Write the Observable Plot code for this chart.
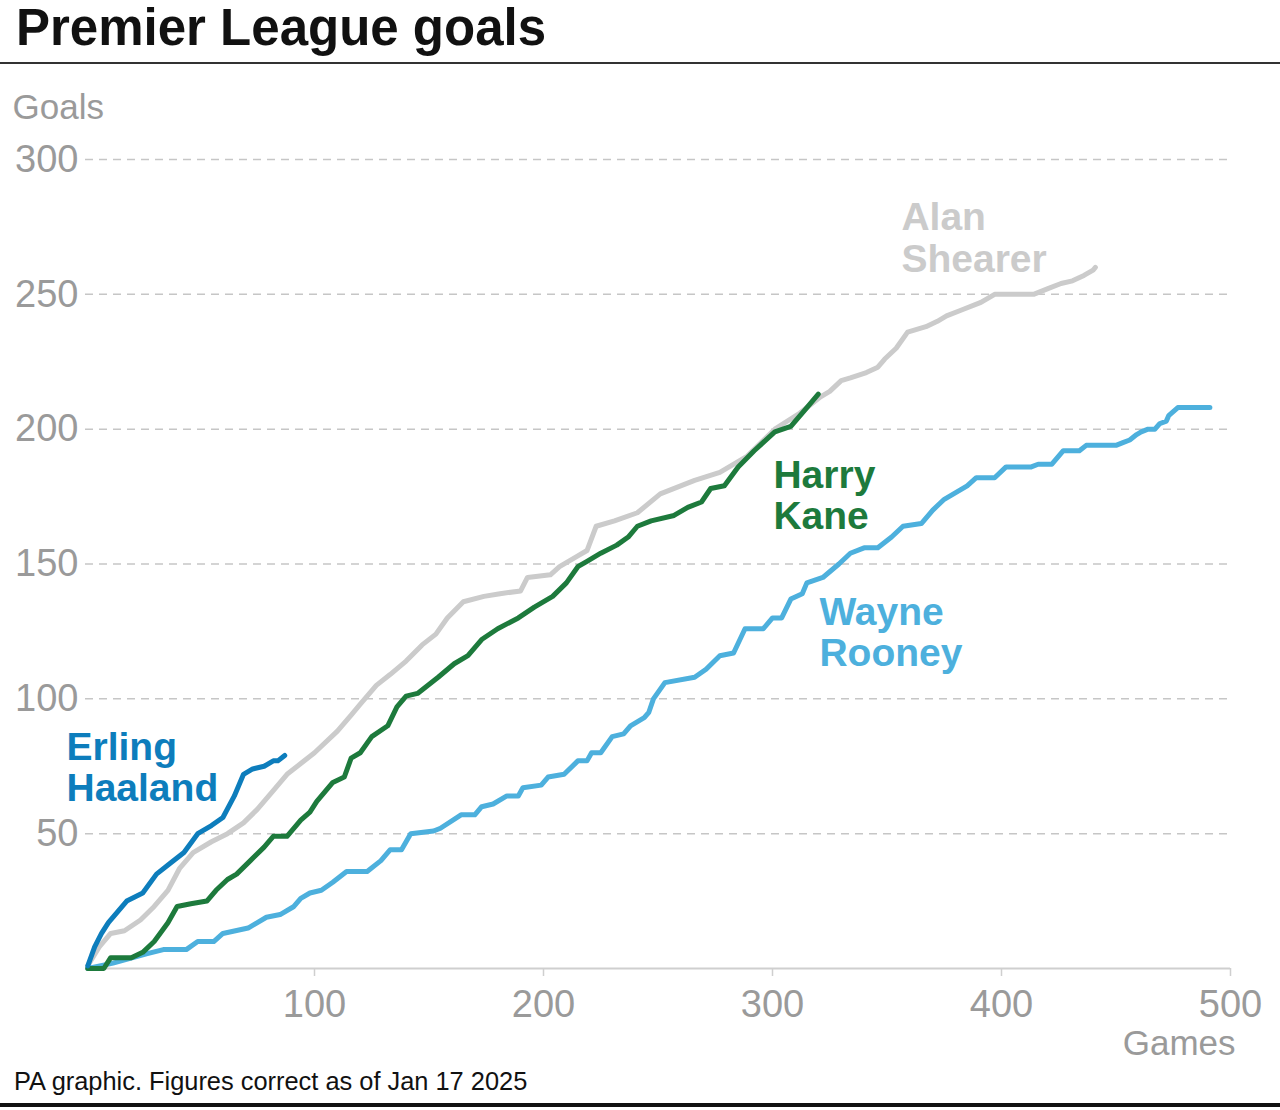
<!DOCTYPE html>
<html>
<head>
<meta charset="utf-8">
<script src="https://cdn.jsdelivr.net/npm/d3@7"></script>
<script src="https://cdn.jsdelivr.net/npm/@observablehq/plot@0.6"></script>
<style>
  html, body { margin: 0; padding: 0; background: #fff; }
  body { width: 1280px; height: 1110px; position: relative; overflow: hidden; font-family: "Liberation Sans", Arial, sans-serif; }
  #title { position: absolute; left: 16px; top: 2px; font-weight: bold; font-size: 51px; line-height: 51px; color: #111; white-space: nowrap; }
  #rule1 { position: absolute; left: 0; top: 62px; width: 1280px; height: 2px; background: #333; }
  #chart { position: absolute; left: 0; top: 66px; }
  #caption { position: absolute; left: 14px; top: 1069px; font-size: 25.4px; line-height: 25px; color: #111; white-space: nowrap; }
  #rule2 { position: absolute; left: 0; top: 1103px; width: 1280px; height: 4px; background: #111; }
</style>
</head>
<body>
<div id="title">Premier League goals</div>
<div id="rule1"></div>
<div id="chart"></div>
<div id="caption">PA graphic. Figures correct as of Jan 17 2025</div>
<div id="rule2"></div>
<script>
// ---- data (cumulative Premier League goals by games played) ----
const haalandGames = [1, 4, 7, 10, 14, 18, 25, 31, 37, 43, 49, 55, 60, 65, 69, 73, 78, 82, 84, 87];
const haalandGoals = [1, 8, 13, 17, 21, 25, 28, 35, 39, 43, 50, 53, 56, 64, 72, 74, 75, 77, 77, 79];

const shearerGames = [1, 6, 11, 17, 24, 30, 36, 41, 47, 55, 62, 69, 75, 82, 88, 94, 100, 110, 116, 120, 127, 133, 140, 147, 153, 158, 165, 174, 181, 190, 193, 203, 207, 215, 219, 223, 231, 241, 251, 266, 277, 289, 301, 312, 321, 325, 330, 334, 341, 346, 349, 354, 359, 367, 372, 376, 382, 391, 397, 414, 420, 426, 431, 436, 440, 441];
const shearerGoals = [1, 8, 13, 14, 18, 23, 29, 37, 43, 47, 50, 54, 59, 66, 72, 76, 80, 88, 94, 98, 105, 109, 114, 120, 124, 130, 136, 138, 139, 140, 145, 146, 149, 153, 155, 164, 166, 169, 176, 181, 184, 190, 200, 206, 212, 214, 218, 219, 221, 223, 226, 230, 236, 238, 240, 242, 244, 247, 250, 250, 252, 254, 255, 257, 259, 260];

const kaneGames = [1, 8, 11, 20, 25, 30, 36, 40, 46, 53, 57, 62, 66, 72, 78, 82, 88, 94, 98, 101, 108, 113, 116, 120, 125, 132, 136, 140, 145, 154, 161, 167, 173, 180, 189, 196, 204, 210, 215, 219, 225, 232, 237, 241, 247, 257, 263, 269, 273, 279, 285, 292, 301, 308, 314, 320];
const kaneGoals = [0, 0, 4, 4, 6, 10, 17, 23, 24, 25, 29, 33, 35, 40, 45, 49, 49, 55, 58, 62, 69, 71, 78, 80, 86, 90, 97, 101, 102, 108, 113, 116, 122, 126, 130, 134, 138, 143, 149, 151, 154, 157, 160, 164, 166, 168, 171, 173, 178, 179, 186, 192, 199, 201, 207, 213];

const rooneyGames = [1, 12, 27, 34, 44, 49, 56, 60, 71, 79, 85, 91, 94, 98, 103, 108, 114, 123, 129, 133, 138, 142, 152, 155, 164, 170, 173, 178, 184, 189, 191, 199, 202, 209, 215, 219, 221, 225, 230, 235, 238, 244, 246, 248, 253, 266, 271, 277, 283, 288, 296, 300, 304, 308, 313, 315, 322, 329, 334, 340, 346, 352, 357, 365, 370, 375, 385, 389, 397, 402, 413, 416, 422, 427, 434, 437, 450, 453, 456, 459, 461, 464, 467, 469, 472, 473, 477, 491];
const rooneyGoals = [0, 2, 5.5, 7, 7, 10, 10, 13, 15, 19, 20, 23, 26, 28, 29, 32, 36, 36, 40, 44, 44, 50, 51, 52, 57, 57, 60, 61, 64, 64, 67, 68, 71, 72, 77, 77, 80, 80, 86, 87, 90, 93, 95, 100, 106, 108, 111, 116, 117, 126, 126, 130, 130, 137, 139, 143, 145, 150, 154, 156, 156, 160, 164, 165, 170, 174, 179, 182, 182, 186, 186, 187, 187, 192, 192, 194, 194, 195, 196, 198, 199, 200, 200, 202, 203, 205, 208, 208];

const players = ["Alan Shearer", "Wayne Rooney", "Harry Kane", "Erling Haaland"];
const colors = ["#cbcbcb", "#4db0dd", "#1d7a3c", "#0d7dbc"];

const labelTexts = ["Alan\nShearer", "Wayne\nRooney", "Harry\nKane", "Erling\nHaaland"];
const labelGames = [356.3, 320.5, 300.4, -8.3];
const labelGoals = [271, 124.7, 175.6, 74.6];

const xTicks = [100, 200, 300, 400, 500];
const yTicks = [50, 100, 150, 200, 250, 300];

// ---- build tidy tables ----
const seriesGames = [shearerGames, rooneyGames, kaneGames, haalandGames];
const seriesGoals = [shearerGoals, rooneyGoals, kaneGoals, haalandGoals];
const rows = [];
players.forEach((p, i) => {
  seriesGames[i].forEach((g, j) => rows.push({player: p, games: g, goals: seriesGoals[i][j]}));
});
const labels = players.map((p, i) => ({player: p, text: labelTexts[i], games: labelGames[i], goals: labelGoals[i]}));

const chart = Plot.plot({
  width: 1280,
  height: 1000,
  marginLeft: 85,
  marginRight: 50,
  marginTop: 93,
  marginBottom: 98,
  style: {fontFamily: "'Liberation Sans', Arial, sans-serif", background: "transparent", overflow: "visible"},
  x: {domain: [0, 500]},
  y: {domain: [0, 300]},
  color: {domain: players, range: colors},
  marks: [
    Plot.gridY(yTicks, {stroke: "#c6c6c6", strokeOpacity: 1, strokeWidth: 1.5, strokeDasharray: "8,6"}),
    Plot.ruleY([0], {stroke: "#cfcfcf", strokeWidth: 2}),
    Plot.axisY(yTicks, {tickSize: 0, tickPadding: 7, fontSize: 38, fill: "#9a9a9a", label: null}),
    Plot.axisX(xTicks, {tickSize: 8, tickPadding: 14, fontSize: 38, fill: "#9a9a9a", stroke: "#cfcfcf", strokeWidth: 1.5, label: null}),
    Plot.line(rows, {x: "games", y: "goals", z: "player", stroke: "player", strokeWidth: 5, strokeLinejoin: "round", strokeLinecap: "round", curve: "linear"}),
    Plot.text(labels, {x: "games", y: "goals", text: "text", fill: "player", textAnchor: "start", lineAnchor: "middle", lineHeight: 1.06, fontSize: 39, fontWeight: "bold"}),
    Plot.text(["Goals"], {frameAnchor: "top-left", text: d => d, dx: -73, dy: -65, textAnchor: "start", fontSize: 35, fill: "#9a9a9a"}),
    Plot.text(["Games"], {frameAnchor: "bottom-right", text: d => d, dx: 5, dy: 86, textAnchor: "end", fontSize: 35, fill: "#9a9a9a"})
  ]
});
document.getElementById("chart").appendChild(chart);
</script>
</body>
</html>
